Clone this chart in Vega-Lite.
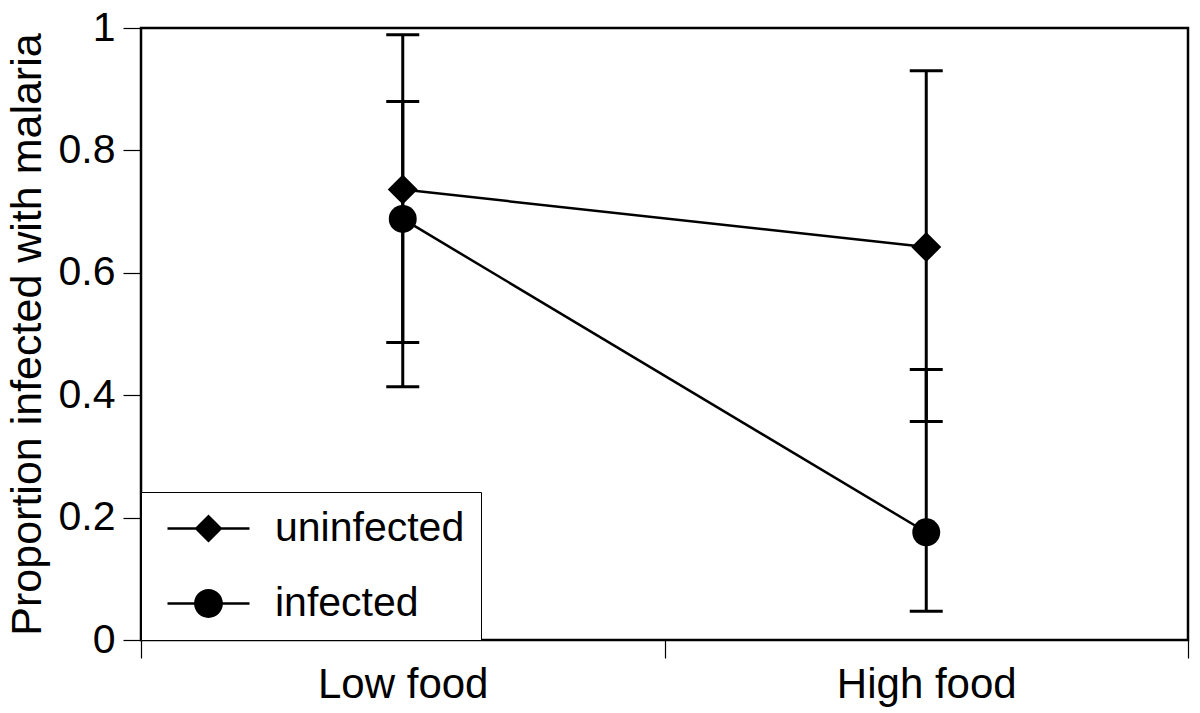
{
  "$schema": "https://vega.github.io/schema/vega-lite/v6.json",
  "autosize": "none",
  "width": 1047,
  "height": 612,
  "padding": {"left": 141, "top": 28, "right": 12, "bottom": 73},
  "background": "white",
  "config": {
    "font": "Liberation Sans",
    "view": {"stroke": "black", "strokeWidth": 2.5},
    "axis": {"grid": false, "domain": false, "labelColor": "black", "titleColor": "black", "tickColor": "black"}
  },
  "data": {
    "values": [
      {"food": "Low food", "status": "uninfected", "p": 0.736, "lo": 0.486, "hi": 0.989},
      {"food": "Low food", "status": "infected", "p": 0.688, "lo": 0.414, "hi": 0.880},
      {"food": "High food", "status": "uninfected", "p": 0.642, "lo": 0.357, "hi": 0.930},
      {"food": "High food", "status": "infected", "p": 0.176, "lo": 0.047, "hi": 0.442}
    ]
  },
  "encoding": {
    "x": {
      "field": "food",
      "type": "nominal",
      "sort": ["Low food", "High food"],
      "scale": {"paddingInner": 0, "paddingOuter": 0},
      "axis": {
        "title": null,
        "labelAngle": 0,
        "labelFontSize": 42,
        "labelPadding": 6,
        "tickSize": 18,
        "tickWidth": 1.2,
        "tickBand": "extent"
      }
    }
  },
  "layer": [
    {
      "mark": {"type": "rule", "color": "black", "strokeWidth": 3},
      "encoding": {
        "y": {
          "field": "lo",
          "type": "quantitative",
          "scale": {"domain": [0, 1]},
          "axis": {
            "title": "Proportion infected with malaria",
            "titleFontSize": 43,
            "titleFontWeight": "normal",
            "titlePadding": 9,
            "values": [0, 0.2, 0.4, 0.6, 0.8, 1],
            "format": "~g",
            "labelFontSize": 41,
            "labelPadding": 8,
            "tickSize": 18,
            "tickWidth": 1.2
          }
        },
        "y2": {"field": "hi"},
        "detail": {"field": "status"}
      }
    },
    {
      "mark": {"type": "tick", "color": "black", "size": 33, "thickness": 3, "opacity": 1},
      "encoding": {"y": {"field": "lo", "type": "quantitative"}, "detail": {"field": "status"}}
    },
    {
      "mark": {"type": "tick", "color": "black", "size": 33, "thickness": 3, "opacity": 1},
      "encoding": {"y": {"field": "hi", "type": "quantitative"}, "detail": {"field": "status"}}
    },
    {
      "mark": {"type": "line", "color": "black", "strokeWidth": 2.5},
      "encoding": {"y": {"field": "p", "type": "quantitative"}, "detail": {"field": "status"}}
    },
    {
      "transform": [{"filter": "datum.status === 'uninfected'"}],
      "mark": {"type": "point", "shape": "diamond", "filled": true, "color": "black", "opacity": 1, "size": 900},
      "encoding": {"y": {"field": "p", "type": "quantitative"}}
    },
    {
      "transform": [{"filter": "datum.status === 'infected'"}],
      "mark": {"type": "point", "shape": "circle", "filled": true, "color": "black", "opacity": 1, "size": 780},
      "encoding": {"y": {"field": "p", "type": "quantitative"}}
    },
    {
      "mark": {"type": "point", "filled": true, "color": "black", "opacity": 0, "size": 1600},
      "encoding": {
        "y": {"field": "p", "type": "quantitative"},
        "shape": {
          "field": "status",
          "type": "nominal",
          "scale": {
            "domain": ["uninfected", "infected"],
            "range": [
              "M-2.05,-0.065L2.05,-0.065L2.05,0.065L-2.05,0.065ZM0,-0.7L0.7,0L0,0.7L-0.7,0Z",
              "M-2.05,-0.065L2.05,-0.065L2.05,0.065L-2.05,0.065ZM0.72,0A0.72,0.72,0,1,1,-0.72,0A0.72,0.72,0,1,1,0.72,0Z"
            ]
          },
          "legend": {
            "title": null,
            "orient": "bottom-left",
            "offset": 0,
            "padding": 16,
            "strokeColor": "black",
            "fillColor": "white",
            "labelFontSize": 41,
            "labelColor": "black",
            "labelLimit": 500,
            "labelOffset": 46,
            "labelExpr": "datum.label + '   \u2009'",
            "rowPadding": 33,
            "symbolSize": 1600,
            "symbolOffset": 31,
            "symbolOpacity": 1,
            "symbolStrokeWidth": 0,
            "symbolFillColor": "black",
            "symbolStrokeColor": "black",
            "encode": {
              "legend": {"strokeWidth": {"value": 2.5}},
              "symbols": {
                "size": {"value": 1600},
                "fill": {"value": "black"},
                "fillOpacity": {"value": 1},
                "stroke": {"value": "black"},
                "strokeWidth": {"value": 0},
                "opacity": {"value": 1}
              }
            }
          }
        }
      }
    }
  ]
}
